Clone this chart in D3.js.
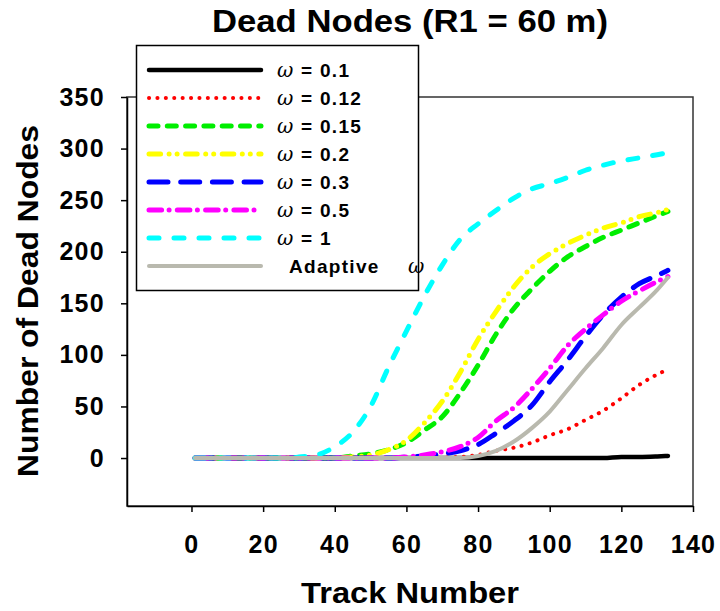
<!DOCTYPE html>
<html>
<head>
<meta charset="utf-8">
<script src="https://cdn.jsdelivr.net/npm/d3@7"></script>
<style>
body { margin: 0; background: #fff; }
text { font-family: "Liberation Sans", Arial, sans-serif; font-weight: bold; }
</style>
</head>
<body>
<div id="chart"></div>
<script>
const tracks = [1, 10, 20, 28, 30, 35, 40, 45, 50, 55, 60, 65, 70, 75, 80, 85, 90, 95, 100, 105, 110, 115, 120, 125, 130, 133];

const w01  = [0,0,0,0,0,0,0,0,0,0,0,0,0,0,0,0,0,0,0,0,0,0,1,1,1.5,2];
const w012 = [0,0,0,0,0,0,0,0,0,0,0,0,0.5,1,3,7,10,15,22,28,37,46,58,71,81,86];
const w015 = [0,0,0,0,0,0,0,2,4,8,15,27,40,63,90,120,145,164,181,195,205,214,221,228,235,239];
const w02  = [0,0,0,0,0,0,0,1,3,8,17,34,55,83,115,142,166,185,198,208,216,223,228,234,238,241];
const w03  = [0,0,0,0,0,0,0,0,0,0,1,2,4,7,13,24,36,51,74,95,118,139,156,169,177,182];
const w05  = [0,0,0,0,0,0,0,0,0,0,1,3,6,11,20,36,49,67,87,109,125,139,152,162,171,176];
const w1   = [0,0,0,0,1,3,11,25,50,88,123,157,187,212,227,240,252,261,266,272,279,284,288,291,294,296];
const wAdaptive = [0,0,0,0,0,0,0,0,0,0,0,0,0,0,2,7,16,29,45,66,87,107,129,146,163,175];

const seriesLabels = ["= 0.1", "= 0.12", "= 0.15", "= 0.2", "= 0.3", "= 0.5", "= 1", "Adaptive"];
const xTicks = [0, 20, 40, 60, 80, 100, 120, 140];
const yTicks = [0, 50, 100, 150, 200, 250, 300, 350];

// styles for each series, same order as the labels
const styles = [
  {color: "#000000", width: 4.5, dash: null},
  {color: "#ff0000", width: 4, dash: "0.1 8.3"},
  {color: "#00ee00", width: 5, dash: "9 9.3"},
  {color: "#ffff00", width: 5, dash: "11.6 8.5 0 8 0 8.5"},
  {color: "#0000ff", width: 5, dash: "19 12.7"},
  {color: "#ff00ff", width: 5, dash: "12.6 7.5 0 8.2"},
  {color: "#00ffff", width: 5, dash: "10 15"},
  {color: "#b9b9ae", width: 4, dash: null}
];
const allValues = [w01, w012, w015, w02, w03, w05, w1, wAdaptive];

const margin = {top: 97, right: 27, bottom: 105, left: 127},
  width = 720 - margin.left - margin.right,
  height = 611 - margin.top - margin.bottom;

const svg = d3.select("#chart")
  .append("svg")
  .attr("width", 720)
  .attr("height", 611);

const g = svg.append("g")
  .attr("transform", `translate(${margin.left},${margin.top})`);

const x = d3.scaleLinear().domain([-18, 140]).range([0, width]);
const y = d3.scaleLinear().domain([-46.5, 350]).range([height, 0]);

// frame
g.append("rect")
  .attr("width", width)
  .attr("height", height)
  .attr("fill", "none")
  .attr("stroke", "#333")
  .attr("stroke-width", 1.5);

// lines
const line = d3.line()
  .x(d => x(d[0]))
  .y(d => y(d[1]))
  .curve(d3.curveMonotoneX);

allValues.forEach((vals, i) => {
  const s = styles[i];
  g.append("path")
    .datum(tracks.map((t, j) => [t, vals[j]]))
    .attr("d", line)
    .attr("fill", "none")
    .attr("stroke", s.color)
    .attr("stroke-width", s.width)
    .attr("stroke-linecap", "round")
    .attr("stroke-linejoin", "round")
    .attr("stroke-dasharray", s.dash);
});

// axes
const xAxis = g.append("g")
  .attr("transform", `translate(0,${height})`)
  .call(d3.axisBottom(x).tickValues(xTicks).tickSize(6).tickSizeOuter(0).tickPadding(23));
const yAxis = g.append("g")
  .call(d3.axisLeft(y).tickValues(yTicks).tickSize(6).tickSizeOuter(0).tickPadding(16));

[xAxis, yAxis].forEach(ax => {
  ax.selectAll("path, line").attr("stroke", "#000").attr("stroke-width", 1.5);
  ax.selectAll("text")
    .attr("fill", "#000")
    .style("font-family", "'Liberation Sans', Arial, sans-serif")
    .style("font-weight", "bold")
    .style("font-size", "25px")
    .style("letter-spacing", "1.3px");
});

// legend
const legend = svg.append("g");
legend.append("rect")
  .attr("x", 136.5).attr("y", 45.5)
  .attr("width", 282).attr("height", 245)
  .attr("fill", "#fff")
  .attr("stroke", "#000")
  .attr("stroke-width", 1.5);

seriesLabels.forEach((lab, i) => {
  const s = styles[i];
  const ry = 70 + i * 28;
  legend.append("line")
    .attr("x1", 149).attr("x2", 261)
    .attr("y1", ry).attr("y2", ry)
    .attr("stroke", s.color)
    .attr("stroke-width", s.width)
    .attr("stroke-linecap", "round")
    .attr("stroke-dasharray", s.dash);

  const omega = i === 7 ? 408 : 277;
  const textX = i === 7 ? 289 : 301;
  legend.append("text")
    .attr("x", omega).attr("y", ry + 7)
    .style("font-family", "'DejaVu Serif', serif")
    .style("font-style", "italic")
    .style("font-weight", "normal")
    .style("font-size", "20px")
    .text("\u03c9");
  legend.append("text")
    .attr("x", textX).attr("y", ry + 7)
    .style("font-size", "19px")
    .style("letter-spacing", "1.3px")
    .text(lab);
});

// titles
svg.append("text")
  .attr("x", 410).attr("y", 32)
  .attr("text-anchor", "middle")
  .attr("textLength", 396)
  .attr("lengthAdjust", "spacingAndGlyphs")
  .style("font-size", "31px")
  .text("Dead Nodes (R1 = 60 m)");

svg.append("text")
  .attr("x", 410).attr("y", 603)
  .attr("text-anchor", "middle")
  .attr("textLength", 218)
  .attr("lengthAdjust", "spacingAndGlyphs")
  .style("font-size", "29px")
  .text("Track Number");

svg.append("text")
  .attr("transform", "translate(38,301) rotate(-90)")
  .attr("text-anchor", "middle")
  .attr("textLength", 352)
  .attr("lengthAdjust", "spacingAndGlyphs")
  .style("font-size", "30px")
  .text("Number of Dead Nodes");
</script>
</body>
</html>
